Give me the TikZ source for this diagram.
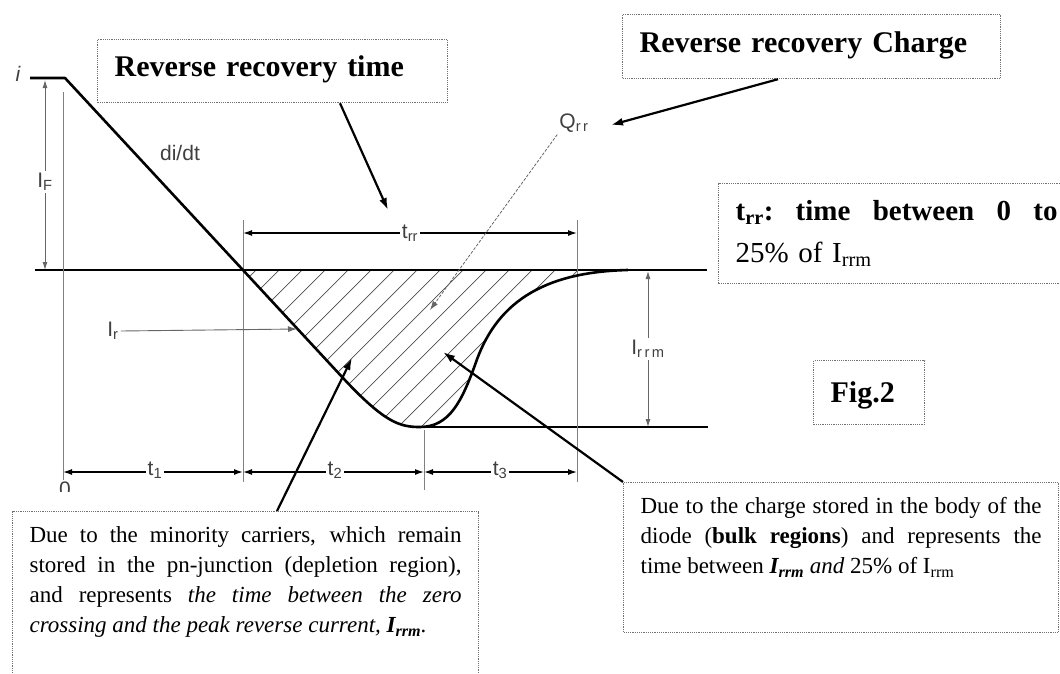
\documentclass[tikz,border=0pt]{standalone}
\usepackage{fontspec}
\setmainfont{Liberation Serif}
\newfontfamily\labelfont{Liberation Sans}
\usetikzlibrary{arrows.meta,calc}

\begin{document}
\begin{tikzpicture}[x=1pt, y=-1pt,
  curve/.style={line width=2.6pt, line join=round},
  axisline/.style={line width=1.4pt},
  guide/.style={line width=0.8pt, black!50},
  hatch/.style={line width=0.7pt, black!70},
  dim/.style={line width=1.3pt, {Latex[length=9pt,width=6pt]}-{Latex[length=9pt,width=6pt]}},
  gdim/.style={line width=0.9pt, black!60, {Latex[length=8pt,width=5pt]}-{Latex[length=8pt,width=5pt]}},
  garrow/.style={line width=0.9pt, black!60, -{Latex[length=9pt,width=6pt]}},
  gdash/.style={line width=0.8pt, black!60, dash pattern=on 3pt off 1.5pt, -{Latex[length=9pt,width=6pt]}},
  callout/.style={line width=2.2pt, -{Latex[length=12pt,width=8pt]}},
  textbox/.style={draw=black!55, densely dotted, line width=1.2pt, anchor=north west, inner xsep=17pt, inner ysep=8pt},
  title/.style={font=\fontsize{30}{36}\selectfont\bfseries, align=left},
  body/.style={font=\fontsize{23}{30}\selectfont, align=justify},
  lbl/.style={font=\labelfont\fontsize{21}{24}\selectfont, text=black!75, fill=white, inner sep=2pt}
]
\useasboundingbox (0,0) rectangle (1060,673);

% zone hachuree
\begin{scope}
\clip (243,270) -- (343,378) .. controls (385,423) and (400,427) .. (420,427)
  .. controls (450,427) and (462,400) .. (475,365)
  .. controls (495,305) and (540,272) .. (628,270) -- cycle;
\foreach \s in {256,279,...,800}
  \draw[hatch] (\s-170,440) -- (\s+30,240);
\end{scope}

% lignes de reference
\draw[axisline] (35,270) -- (707,270);
\draw[axisline] (420,427) -- (708,427);
\draw[guide] (63,92) -- (63,480);
\draw[guide] (243,220) -- (243,482);
\draw[guide] (424,430) -- (424,490);
\draw[guide] (577,220) -- (577,482);

% courant
\draw[curve] (30,78) -- (65,78) -- (343,378) .. controls (385,423) and (400,427) .. (420,427)
  .. controls (450,427) and (462,400) .. (475,365)
  .. controls (495,305) and (540,272) .. (628,270);

% cotes
\coordinate (ifTop) at (45,80);
\coordinate (ifBot) at (45,270);
\draw[gdim] (ifTop) -- (ifBot);
\node[lbl] (IF) at (45,182) {I\textsubscript{F}};
\coordinate (trrL) at (243,233);
\coordinate (trrR) at (577,233);
\draw[dim] (trrL) -- (trrR);
\node[lbl] (trr) at (410,233) {t\textsubscript{rr}};
\coordinate (t0) at (63,472);
\coordinate (ta) at (243,472);
\coordinate (tb) at (424,472);
\coordinate (tc) at (577,472);
\draw[dim] (t0) -- (ta);
\draw[dim] (ta) -- (tb);
\draw[dim] (tb) -- (tc);
\node[lbl] (t1) at (155,470) {t\textsubscript{1}};
\node[lbl] (t2) at (335,470) {t\textsubscript{2}};
\node[lbl] (t3) at (500,470) {t\textsubscript{3}};
\coordinate (irmTop) at (648,271);
\coordinate (irmBot) at (648,427);
\draw[gdim] (irmTop) -- (irmBot);
\node[lbl] (Irrm) at (648,349) {I\textsubscript{r\,r\,m}};

% etiquettes
\node[lbl] (ilbl) at (18,74) {\itshape i};
\node[lbl] (didt) at (180,153) {di/dt};
\node[lbl] (Ir) at (113,331) {I\textsubscript{r}};
\coordinate (irTip) at (297,329);
\draw[garrow] (Ir.east) -- (irTip);
\node[lbl, fill=none] (Qrr) at (574,123) {Q\textsubscript{r\,r}};
\coordinate (qTip) at (430,310);
\draw[gdash] (Qrr.south west) -- (qTip);
\begin{scope}
\clip (45,480) rectangle (110,491);
\node[lbl, fill=none, anchor=north, inner sep=0pt] (zero) at (65,482) {0};
\end{scope}

% cadres
\node[textbox, title, text width=316pt, text height=29pt, text depth=18pt] (rrtime) at (97,39) {Reverse recovery time};
\node[textbox, title, text width=344pt, text height=30pt, text depth=18pt] (rrcharge) at (622,14) {Reverse recovery Charge};
\node[textbox, font=\fontsize{29}{42}\selectfont, align=left, text width=322pt, text height=29pt, text depth=55pt] (trrdef) at (718,183)
  {\textbf{t\textsubscript{rr}:}\hfill\textbf{time}\hfill\textbf{between}\hfill\textbf{0}\hfill\textbf{to}\\25\% of I\textsubscript{rrm}};
\node[textbox, title, text width=77pt, text height=34pt, text depth=14pt] (fig) at (813,360) {Fig.2};
\node[textbox, body, text width=432pt, text height=23pt, text depth=160pt] (minor) at (12,511)
  {Due to the minority carriers, which remain\linebreak stored in the pn-junction (depletion region),\linebreak and represents \textit{the time between the zero\linebreak crossing and the peak reverse current, \textbf{I\textsubscript{rrm}}.}};
\node[textbox, body, text width=401pt, text height=23pt, text depth=111pt] (bulk) at (623,482)
  {Due to the charge stored in the body of the\linebreak diode (\textbf{bulk regions}) and represents the\linebreak time between \textit{\textbf{I\textsubscript{rrm}} and} 25\% of I\textsubscript{rrm}};

% fleches d'appel
\coordinate (rtTip) at (388,210);
\coordinate (chTip) at (611,125);
\coordinate (blTip) at (352,358);
\coordinate (brTip) at (443,352);
\draw[callout] ([xshift=243pt]rrtime.south west) -- (rtTip);
\draw[callout] ([xshift=156pt]rrcharge.south west) -- (chTip);
\draw[callout] ([xshift=265pt]minor.north west) -- (blTip);
\draw[callout] (bulk.north west) -- (brTip);
\end{tikzpicture}
\end{document}
